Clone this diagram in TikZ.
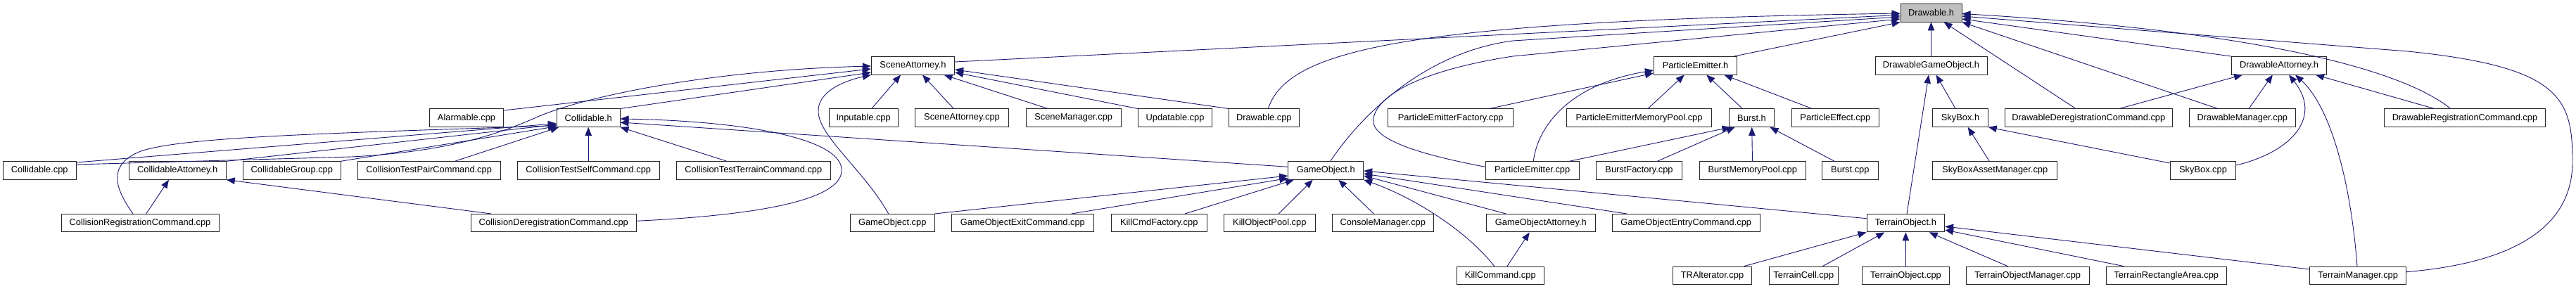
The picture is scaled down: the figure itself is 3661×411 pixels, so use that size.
\documentclass[tikz,border=0pt]{standalone}
\usepackage{fontspec}
\setmainfont{Liberation Sans}
\usetikzlibrary{arrows.meta}
\usepackage{xcolor}
\definecolor{DoxEdge}{HTML}{191970}
\definecolor{DoxRoot}{HTML}{BFBFBF}
\definecolor{DoxBorder}{HTML}{262626}
\tikzset{
    % Box styles - one per file
    filebox/.style={
        rectangle,
        draw=DoxBorder,
        fill=white,
        line width=0.9pt,
        minimum height=25.5pt,
        inner sep=0pt,
        align=center,
        font=\fontsize{12.85pt}{15pt}\selectfont
    },
    rootbox/.style={
        filebox,
        fill=DoxRoot
    },
    % Include edge - head sits on the included file
    incl/.style={
        -{Triangle[length=12pt,width=9.5pt]},
        line width=0.9pt,
        draw=DoxEdge
    }
}

\begin{document}
\begin{tikzpicture}[x=1pt, y=-1pt]
    \useasboundingbox (0,0) rectangle (3661,411);

    % Row 0
    \node[rootbox, minimum width=87pt] (drawableh) at (2744.5,18.3) {Drawable.h};

    % Row 1
    \node[filebox, minimum width=118.4pt] (sceneatth) at (1297.5,93.3) {SceneAttorney.h};
    \node[filebox, minimum width=118.4pt] (pemith) at (2409.5,93.3) {ParticleEmitter.h};
    \node[filebox, minimum width=159pt] (dgoh) at (2744.5,93.3) {DrawableGameObject.h};
    \node[filebox, minimum width=135pt] (dattyh) at (3239,93.3) {DrawableAttorney.h};

    % Row 2
    \node[filebox, minimum width=105.4pt] (alarmcpp) at (663,167.7) {Alarmable.cpp};
    \node[filebox, minimum width=89.7pt] (collh) at (836.2,167.7) {Collidable.h};
    \node[filebox, minimum width=98.3pt] (inputcpp) at (1227.2,167.7) {Inputable.cpp};
    \node[filebox, minimum width=133.4pt] (sceneattcpp) at (1367,167.7) {SceneAttorney.cpp};
    \node[filebox, minimum width=134.7pt] (scenemgrcpp) at (1525.7,167.7) {SceneManager.cpp};
    \node[filebox, minimum width=105.4pt] (updcpp) at (1670,167.7) {Updatable.cpp};
    \node[filebox, minimum width=100pt] (drawcpp) at (1796.3,167.7) {Drawable.cpp};
    \node[filebox, minimum width=178pt] (pefactcpp) at (2061.7,167.7) {ParticleEmitterFactory.cpp};
    \node[filebox, minimum width=206.4pt] (pempcpp) at (2329.5,167.7) {ParticleEmitterMemoryPool.cpp};
    \node[filebox, minimum width=64.4pt] (bursth) at (2489.5,167.7) {Burst.h};
    \node[filebox, minimum width=124.7pt] (peffcpp) at (2608.3,167.7) {ParticleEffect.cpp};
    \node[filebox, minimum width=78.6pt] (skyboxh) at (2786,167.7) {SkyBox.h};
    \node[filebox, minimum width=238.7pt] (ddregcpp) at (2968.3,167.7) {DrawableDeregistrationCommand.cpp};
    \node[filebox, minimum width=151pt] (dmgrcpp) at (3186.8,167.7) {DrawableManager.cpp};
    \node[filebox, minimum width=229pt] (dregcpp) at (3503,167.7) {DrawableRegistrationCommand.cpp};

    % Row 3
    \node[filebox, minimum width=103.3pt] (collcpp) at (56.3,242.5) {Collidable.cpp};
    \node[filebox, minimum width=138.3pt] (collatth) at (252.2,242.5) {CollidableAttorney.h};
    \node[filebox, minimum width=138.3pt] (collgrpcpp) at (414.8,242.5) {CollidableGroup.cpp};
    \node[filebox, minimum width=203.3pt] (ctpaircpp) at (609.7,242.5) {CollisionTestPairCommand.cpp};
    \node[filebox, minimum width=202.3pt] (ctselfcpp) at (836.2,242.5) {CollisionTestSelfCommand.cpp};
    \node[filebox, minimum width=219.7pt] (ctterrcpp) at (1070.8,242.5) {CollisionTestTerrainCommand.cpp};
    \node[filebox, minimum width=107pt] (gameobjh) at (1884.2,242.5) {GameObject.h};
    \node[filebox, minimum width=133.3pt] (pemitcpp) at (2177.7,242.5) {ParticleEmitter.cpp};
    \node[filebox, minimum width=122.4pt] (burstfactcpp) at (2329.5,242.5) {BurstFactory.cpp};
    \node[filebox, minimum width=150.7pt] (burstmpcpp) at (2490.7,242.5) {BurstMemoryPool.cpp};
    \node[filebox, minimum width=79.3pt] (burstcpp) at (2629.3,242.5) {Burst.cpp};
    \node[filebox, minimum width=177pt] (skyboxamcpp) at (2835.2,242.5) {SkyBoxAssetManager.cpp};
    \node[filebox, minimum width=93.6pt] (skyboxcpp) at (3131,242.5) {SkyBox.cpp};

    % Row 4
    \node[filebox, minimum width=224pt] (collregcpp) at (199,317.2) {CollisionRegistrationCommand.cpp};
    \node[filebox, minimum width=234.3pt] (colldregcpp) at (786.8,317.2) {CollisionDeregistrationCommand.cpp};
    \node[filebox, minimum width=119.7pt] (gameobjcpp) at (1268.2,317.2) {GameObject.cpp};
    \node[filebox, minimum width=202.7pt] (goexitcpp) at (1453.3,317.2) {GameObjectExitCommand.cpp};
    \node[filebox, minimum width=136.3pt] (killcmdfcpp) at (1647.2,317.2) {KillCmdFactory.cpp};
    \node[filebox, minimum width=129.3pt] (killopcpp) at (1804.3,317.2) {KillObjectPool.cpp};
    \node[filebox, minimum width=144pt] (consolecpp) at (1965.3,317.2) {ConsoleManager.cpp};
    \node[filebox, minimum width=155pt] (goatth) at (2189.8,317.2) {GameObjectAttorney.h};
    \node[filebox, minimum width=210.3pt] (goentrycpp) at (2396.2,317.2) {GameObjectEntryCommand.cpp};
    \node[filebox, minimum width=110.7pt] (terrobjh) at (2708.3,317.2) {TerrainObject.h};

    % Row 5
    \node[filebox, minimum width=124.7pt] (killcmdcpp) at (2132.3,391.8) {KillCommand.cpp};
    \node[filebox, minimum width=112.4pt] (tralcpp) at (2433.5,391.8) {TRAlterator.cpp};
    \node[filebox, minimum width=98.7pt] (tcellcpp) at (2563.3,391.8) {TerrainCell.cpp};
    \node[filebox, minimum width=124.4pt] (tobjcpp) at (2708.5,391.8) {TerrainObject.cpp};
    \node[filebox, minimum width=174.7pt] (tomgrcpp) at (2881.7,391.8) {TerrainObjectManager.cpp};
    \node[filebox, minimum width=171pt] (trectcpp) at (3078.8,391.8) {TerrainRectangleArea.cpp};
    \node[filebox, minimum width=136.6pt] (tmgrcpp) at (3351.2,391.8) {TerrainManager.cpp};

    % Drawable.h
    \draw[incl] ([yshift=5.3pt]sceneatth.east) -- ([yshift=-3pt]drawableh.west);
    \draw[incl] ([xshift=6pt]drawcpp.north) .. controls (1830,70) and (2000,30) .. ([yshift=-0.7pt]drawableh.west);
    \draw[incl] ([xshift=6.5pt]gameobjh.north) .. controls (1930,170) and (2020,75) .. (2150,58) -- ([yshift=-5.7pt]drawableh.west);
    \draw[incl] ([yshift=5.2pt]pemitcpp.west) .. controls (2030,222) and (1945,200) .. (1952,168) .. controls (1958,135) and (2020,100) .. (2150,80) -- ([yshift=-8.7pt]drawableh.west);
    \draw[incl] ([xshift=-5pt]pemith.north east) -- (drawableh.south west);
    \draw[incl] (dgoh) -- (drawableh);
    \draw[incl] ([xshift=-18.3pt]ddregcpp.north) -- ([xshift=18pt]drawableh.south);
    \draw[incl] ([xshift=-35pt]dmgrcpp.north) -- (drawableh.south east);
    \draw[incl] (dattyh.north west) -- ([yshift=-8.7pt]drawableh.east);
    \draw[incl] ([xshift=-20.3pt]dregcpp.north) .. controls (3440,120) and (3300,50) .. ([yshift=-1.2pt]drawableh.east);
    \draw[incl] ([yshift=5.1pt]tmgrcpp.east) .. controls (3560,375) and (3656,330) .. (3656,230) .. controls (3656,140) and (3640,95) .. (3421.6,73) -- ([yshift=-4.7pt]drawableh.east);

    % SceneAttorney.h
    \draw[incl] ([xshift=11.5pt]inputcpp.north) -- ([xshift=-17.5pt]sceneatth.south);
    \draw[incl] ([xshift=-11.7pt]sceneattcpp.north) -- ([xshift=13.5pt]sceneatth.south);
    \draw[incl] ([xshift=-36.4pt]scenemgrcpp.north) -- ([xshift=44pt]sceneatth.south);
    \draw[incl] (updcpp.north west) -- ([yshift=-9.7pt]sceneatth.east);
    \draw[incl] (drawcpp.north west) -- ([yshift=-5.7pt]sceneatth.east);
    \draw[incl] ([xshift=-5.5pt]gameobjcpp.north) .. controls (1230,245) and (1165,195) .. (1163,160) .. controls (1161,130) and (1200,115) .. (sceneatth.south west);
    \draw[incl] (collh.north east) -- ([yshift=-9.7pt]sceneatth.west);
    \draw[incl] ([yshift=10.7pt]alarmcpp.east) -- ([yshift=-4.7pt]sceneatth.west);
    \draw[incl] ([yshift=8.5pt]collcpp.east) -- (500,223) .. controls (650,215) and (720,185) .. (760,168) .. controls (820,140) and (1000,100) .. ([yshift=-0.7pt]sceneatth.west);

    % Collidable.h
    \draw[incl] ([xshift=-10pt]collregcpp.north) .. controls (165,270) and (150,235) .. (200,215) .. controls (260,195) and (450,190) .. ([yshift=-11pt]collh.west);
    \draw[incl] ([yshift=11.5pt]collcpp.east) -- ([yshift=-8pt]collh.west);
    \draw[incl] (collatth.north east) -- ([yshift=-9.5pt]collh.west);
    \draw[incl] (collgrpcpp.north east) -- ([yshift=-12pt]collh.west);
    \draw[incl] ([xshift=36.6pt]ctpaircpp.north) -- ([xshift=-42pt]collh.south);
    \draw[incl] (ctselfcpp) -- (collh);
    \draw[incl] ([xshift=-37.8pt]ctterrcpp.north) -- (collh.south east);
    \draw[incl] ([yshift=5.2pt]gameobjh.west) -- ([yshift=-6.3pt]collh.east);
    \draw[incl] ([yshift=2.9pt]colldregcpp.east) .. controls (1100,305) and (1200,280) .. (1196,240) .. controls (1192,195) and (1050,172) .. ([yshift=-1.3pt]collh.east);

    % CollidableAttorney.h
    \draw[incl] ([xshift=8.7pt]collregcpp.north) -- ([xshift=-12.2pt]collatth.south);
    \draw[incl] ([xshift=-88.8pt]colldregcpp.north) -- (collatth.south east);

    % GameObject.h
    \draw[incl] (gameobjcpp.north east) -- ([yshift=-7.5pt]gameobjh.west);
    \draw[incl] ([xshift=69.4pt]goexitcpp.north) -- ([yshift=-11pt]gameobjh.west);
    \draw[incl] ([xshift=36.8pt]killcmdfcpp.north) -- ([xshift=-45.2pt]gameobjh.south);
    \draw[incl] ([xshift=13pt]killopcpp.north) -- ([xshift=-18.5pt]gameobjh.south);
    \draw[incl] ([xshift=-13pt]consolecpp.north) -- ([xshift=18.1pt]gameobjh.south);
    \draw[incl] ([xshift=-8.6pt]killcmdcpp.north) .. controls (2090,335) and (2020,285) .. (gameobjh.south east);
    \draw[incl] ([xshift=-49.5pt]goatth.north) -- ([yshift=-7.5pt]gameobjh.east);
    \draw[incl] ([xshift=-84.2pt]goentrycpp.north) -- ([yshift=-4.5pt]gameobjh.east);
    \draw[incl] ([yshift=6.5pt]terrobjh.west) -- ([yshift=-0.5pt]gameobjh.east);

    % GameObjectAttorney.h
    \draw[incl] ([xshift=9.7pt]killcmdcpp.north) -- ([xshift=-16.1pt]goatth.south);

    % ParticleEmitter.h
    \draw[incl] ([xshift=55.3pt]pefactcpp.north) -- ([yshift=-10.7pt]pemith.west);
    \draw[incl] ([xshift=1.6pt]pemitcpp.north) .. controls (2185,180) and (2230,120) .. ([yshift=-6.7pt]pemith.west);
    \draw[incl] ([xshift=12.5pt]pempcpp.north) -- ([xshift=-15.8pt]pemith.south);
    \draw[incl] ([xshift=-13.2pt]bursth.north) -- ([xshift=15.8pt]pemith.south);
    \draw[incl] ([xshift=-33pt]peffcpp.north) -- ([xshift=40.8pt]pemith.south);

    % Burst.h
    \draw[incl] ([xshift=52.6pt]pemitcpp.north) -- ([xshift=-30pt]bursth.south);
    \draw[incl] ([xshift=25.8pt]burstfactcpp.north) -- ([xshift=-24pt]bursth.south);
    \draw[incl] (burstmpcpp) -- (bursth);
    \draw[incl] ([xshift=-22.3pt]burstcpp.north) -- ([xshift=26pt]bursth.south);

    % DrawableGameObject.h and SkyBox.h
    \draw[incl] ([xshift=1.7pt]terrobjh.north) -- ([xshift=-3.5pt]dgoh.south);
    \draw[incl] ([xshift=-7pt]skyboxh.north) -- ([xshift=7.2pt]dgoh.south);
    \draw[incl] ([xshift=-7.9pt]skyboxamcpp.north) -- ([xshift=10.7pt]skyboxh.south);
    \draw[incl] ([yshift=10.5pt]skyboxcpp.west) -- (skyboxh.south east);

    % DrawableAttorney.h
    \draw[incl] ([xshift=43.4pt]ddregcpp.north) -- ([xshift=-52pt]dattyh.south);
    \draw[incl] ([xshift=9.2pt]dmgrcpp.north) -- ([xshift=-9.2pt]dattyh.south);
    \draw[incl] ([yshift=7.5pt]skyboxcpp.east) .. controls (3260,215) and (3300,165) .. ([xshift=14pt]dattyh.south);
    \draw[incl] ([xshift=-1.2pt]tmgrcpp.north) .. controls (3340,250) and (3310,150) .. ([xshift=23pt]dattyh.south);
    \draw[incl] ([xshift=-43.5pt]dregcpp.north) -- ([xshift=52pt]dattyh.south);

    % TerrainObject.h
    \draw[incl] ([xshift=45.2pt]tralcpp.north) -- (terrobjh.south west);
    \draw[incl] ([xshift=27pt]tcellcpp.north) -- ([xshift=-30pt]terrobjh.south);
    \draw[incl] (tobjcpp) -- (terrobjh);
    \draw[incl] ([xshift=-28.4pt]tomgrcpp.north) -- ([xshift=33.4pt]terrobjh.south);
    \draw[incl] ([xshift=-60.5pt]trectcpp.north) -- ([yshift=-9.8pt]terrobjh.east);
    \draw[incl] ([yshift=8.8pt]tmgrcpp.west) -- ([yshift=-4.8pt]terrobjh.east);
\end{tikzpicture}
\end{document}
